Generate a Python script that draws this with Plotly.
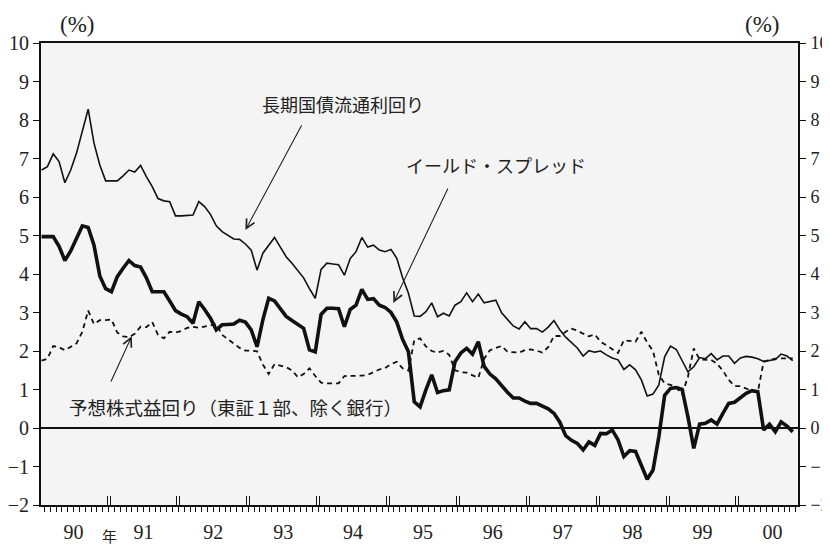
import plotly.graph_objects as go

# ---- data (monthly, Jan 1990 = 0) ----
month_pos = list(range(130))
year_labels = ["90", "91", "92", "93", "94", "95", "96", "97", "98", "99", "00"]
yaxis_ticks = [-2, -1, 0, 1, 2, 3, 4, 5, 6, 7, 8, 9, 10]

jgb_yield = [
    6.70, 6.79, 7.12, 6.92, 6.37, 6.70, 7.14, 7.74, 8.28, 7.40, 6.83, 6.42,
    6.42, 6.42, 6.55, 6.70, 6.65, 6.82, 6.53, 6.27, 5.96, 5.90, 5.88, 5.51,
    5.51, 5.52, 5.53, 5.88, 5.75, 5.55, 5.25, 5.10, 5.00, 4.91, 4.90, 4.78,
    4.62, 4.10, 4.54, 4.75, 4.95, 4.70, 4.45, 4.28, 4.08, 3.90, 3.62, 3.37,
    4.12, 4.28, 4.26, 4.24, 3.97, 4.40, 4.58, 4.95, 4.70, 4.75, 4.62, 4.58,
    4.64, 4.41, 3.90, 3.50, 2.91, 2.90, 3.02, 3.25, 2.89, 2.98, 2.91, 3.19,
    3.28, 3.51, 3.28, 3.48, 3.25, 3.28, 3.32, 2.99, 2.81, 2.65, 2.57, 2.76,
    2.58, 2.58, 2.49, 2.62, 2.79, 2.55, 2.36, 2.22, 2.08, 1.87, 2.01, 1.97,
    2.00, 1.90, 1.82, 1.77, 1.52, 1.64, 1.51, 1.25, 0.83, 0.88, 1.12, 1.85,
    2.13, 2.04, 1.77, 1.46, 1.59, 1.83, 1.80, 1.93, 1.77, 1.87, 1.87, 1.68,
    1.82, 1.86, 1.84, 1.80, 1.73, 1.75, 1.78, 1.92, 1.87, 1.75,
]

yield_spread = [
    4.97, 4.97, 4.97, 4.72, 4.35, 4.60, 4.95, 5.25, 5.21, 4.75, 3.95, 3.62,
    3.54, 3.93, 4.15, 4.35, 4.22, 4.18, 3.90, 3.54, 3.54, 3.54, 3.30, 3.05,
    2.96, 2.89, 2.72, 3.28, 3.08, 2.85, 2.55, 2.68, 2.69, 2.70, 2.80, 2.75,
    2.55, 2.11, 2.81, 3.37, 3.30, 3.10, 2.90, 2.79, 2.70, 2.59, 2.03, 1.98,
    2.95, 3.11, 3.11, 3.10, 2.63, 3.08, 3.19, 3.60, 3.34, 3.36, 3.19, 3.13,
    3.00, 2.75, 2.30, 1.98, 0.68, 0.55, 0.99, 1.38, 0.92, 0.97, 0.99, 1.72,
    1.95, 2.07, 1.92, 2.24, 1.60, 1.40, 1.28, 1.10, 0.93, 0.78, 0.78, 0.70,
    0.64, 0.64, 0.58, 0.50, 0.38, 0.15, -0.20, -0.32, -0.40, -0.57, -0.36, -0.45,
    -0.14, -0.15, -0.05, -0.31, -0.74, -0.59, -0.61, -1.00, -1.33, -1.09, -0.23, 0.85,
    1.03, 1.05, 1.00, 0.29, -0.53, 0.10, 0.12, 0.21, 0.10, 0.38, 0.64, 0.67,
    0.78, 0.90, 0.97, 0.94, -0.05, 0.10, -0.10, 0.16, 0.05, -0.10,
]

earnings_yield = [
    1.75, 1.80, 2.13, 2.10, 2.02, 2.12, 2.20, 2.50, 3.05, 2.70, 2.80, 2.80,
    2.82, 2.48, 2.38, 2.36, 2.45, 2.63, 2.62, 2.75, 2.42, 2.33, 2.50, 2.48,
    2.52, 2.60, 2.63, 2.60, 2.63, 2.67, 2.70, 2.42, 2.30, 2.18, 2.08, 2.01,
    2.01, 1.99, 1.65, 1.40, 1.66, 1.62, 1.58, 1.50, 1.32, 1.40, 1.55, 1.35,
    1.18, 1.16, 1.16, 1.16, 1.35, 1.35, 1.35, 1.36, 1.38, 1.45, 1.52, 1.56,
    1.66, 1.72, 1.55, 1.49, 2.28, 2.33, 2.12, 2.00, 1.96, 2.00, 1.90, 1.50,
    1.45, 1.44, 1.38, 1.30, 1.80, 2.02, 2.08, 2.13, 1.98, 1.97, 1.96, 2.02,
    2.04, 2.01, 1.96, 2.10, 2.39, 2.39, 2.50, 2.58, 2.53, 2.45, 2.38, 2.43,
    2.24, 2.15, 2.05, 1.95, 2.28, 2.26, 2.24, 2.50, 2.22, 2.00, 1.38, 1.16,
    1.12, 1.05, 0.88, 1.33, 2.07, 1.78, 1.77, 1.77, 1.67, 1.49, 1.25, 1.09,
    1.09, 1.02, 0.96, 0.94, 1.72, 1.77, 1.80, 1.81, 1.81, 1.81,
]

label_jgb = "長期国債流通利回り"
label_spread = "イールド・スプレッド"
label_earn = "予想株式益回り（東証１部、除く銀行）"

# ---- figure ----
INK = "#111111"
SERIF = "Liberation Serif, DejaVu Serif, serif"
JP = "Noto Sans CJK JP, sans-serif"

fig = go.Figure()
fig.add_trace(go.Scatter(x=month_pos, y=earnings_yield, mode="lines",
                         line=dict(color=INK, width=1.8, dash="5px,4px"),
                         showlegend=False, hoverinfo="skip"))
fig.add_trace(go.Scatter(x=month_pos, y=jgb_yield, mode="lines",
                         line=dict(color=INK, width=1.6),
                         showlegend=False, hoverinfo="skip"))
fig.add_trace(go.Scatter(x=month_pos, y=yield_spread, mode="lines",
                         line=dict(color=INK, width=3.6),
                         showlegend=False, hoverinfo="skip"))

# monthly tick marks at month boundaries; year labels on mid-year boundaries
month_bounds = [k + 0.5 for k in range(-1, 130)]
month_text = []
for v in month_bounds:
    k = v - 5.5
    if k >= 0 and k % 12 == 0 and int(k // 12) < len(year_labels):
        month_text.append(year_labels[int(k // 12)])
    else:
        month_text.append("")

year_bounds = []
for k in range(1, len(year_labels)):
    b = 12 * k - 0.5
    year_bounds += [b - 0.25, b + 0.25]

xr = [-0.1, 129.9]
# the page adds an 8px body margin, so the figure is 8px smaller than the window
fig.update_layout(
    width=822, height=538,
    margin=dict(l=33, r=32, t=35, b=41, autoexpand=False),
    paper_bgcolor="white",
    plot_bgcolor="#f4f4f4",
    showlegend=False,
    xaxis=dict(range=xr, tickmode="array", tickvals=month_bounds, ticktext=month_text,
               ticks="outside", ticklen=5, tickwidth=1, tickcolor=INK,
               showline=True, linecolor=INK, linewidth=2, mirror=True,
               showgrid=False, zeroline=False, automargin=False,
               tickfont=dict(family=SERIF, size=20, color="#222"),
               ticklabelstandoff=3),
    xaxis2=dict(range=xr, overlaying="x", anchor="y", side="bottom",
                tickmode="array", tickvals=year_bounds, ticks="inside", ticklen=9,
                tickwidth=1.3, tickcolor=INK, showticklabels=False, automargin=False,
                showline=False, showgrid=False, zeroline=False),
    yaxis=dict(range=[-2, 10], tickmode="array", tickvals=yaxis_ticks,
               ticks="outside", ticklen=6, tickwidth=1.3, tickcolor=INK,
               showline=True, linecolor=INK, linewidth=2, showgrid=False,
               zeroline=True, zerolinecolor=INK, zerolinewidth=2, automargin=False,
               tickfont=dict(family=SERIF, size=20, color="#222")),
    yaxis2=dict(range=[-2, 10], overlaying="y", side="right", anchor="x",
                tickmode="array", tickvals=yaxis_ticks,
                ticks="outside", ticklen=6, tickwidth=1.3, tickcolor=INK,
                showline=True, linecolor=INK, linewidth=2, showgrid=False,
                zeroline=False, ticklabelstandoff=1, automargin=False,
                tickfont=dict(family=SERIF, size=18, color="#222")),
)

# invisible trace to activate the overlay axes
fig.add_trace(go.Scatter(x=[month_pos[0]], y=[jgb_yield[0]], xaxis="x2", yaxis="y2",
                         mode="markers", marker=dict(opacity=0), showlegend=False,
                         hoverinfo="skip"))

annotations = [
    # series labels
    dict(x=51.7, y=8.42, xref="x", yref="y", text=label_jgb, showarrow=False,
         xanchor="center", yanchor="middle",
         font=dict(family=JP, size=18, color="#222")),
    dict(x=78.1, y=6.83, xref="x", yref="y", text=label_spread, showarrow=False,
         xanchor="center", yanchor="middle",
         font=dict(family=JP, size=18, color="#222")),
    dict(x=33.3, y=0.55, xref="x", yref="y", text=label_earn, showarrow=False,
         xanchor="center", yanchor="middle",
         font=dict(family=JP, size=18.5, color="#222")),
    # arrows
    dict(x=35.0, y=5.14, ax=44.8, ay=7.90, xref="x", yref="y", axref="x", ayref="y",
         text="", showarrow=True, arrowhead=5, arrowsize=1.6, arrowwidth=1.1,
         arrowcolor="#222"),
    dict(x=60.4, y=3.25, ax=69.9, ay=6.26, xref="x", yref="y", axref="x", ayref="y",
         text="", showarrow=True, arrowhead=5, arrowsize=1.6, arrowwidth=1.1,
         arrowcolor="#222"),
    dict(x=15.5, y=2.39, ax=11.8, ay=1.17, xref="x", yref="y", axref="x", ayref="y",
         text="", showarrow=True, arrowhead=5, arrowsize=1.6, arrowwidth=1.1,
         arrowcolor="#222"),
    # units
    dict(x=0.0476, y=1.039, xref="paper", yref="paper", text="(%)", showarrow=False,
         xanchor="center", yanchor="middle",
         font=dict(family=SERIF, size=23, color="#222")),
    dict(x=0.952, y=1.039, xref="paper", yref="paper", text="(%)", showarrow=False,
         xanchor="center", yanchor="middle",
         font=dict(family=SERIF, size=23, color="#222")),
    dict(x=0.091, y=-0.038, xref="paper", yref="paper", text="年", showarrow=False,
         xanchor="center", yanchor="top",
         font=dict(family=JP, size=15, color="#222")),
]
fig.update_layout(annotations=annotations)

fig.write_html("out.html")
